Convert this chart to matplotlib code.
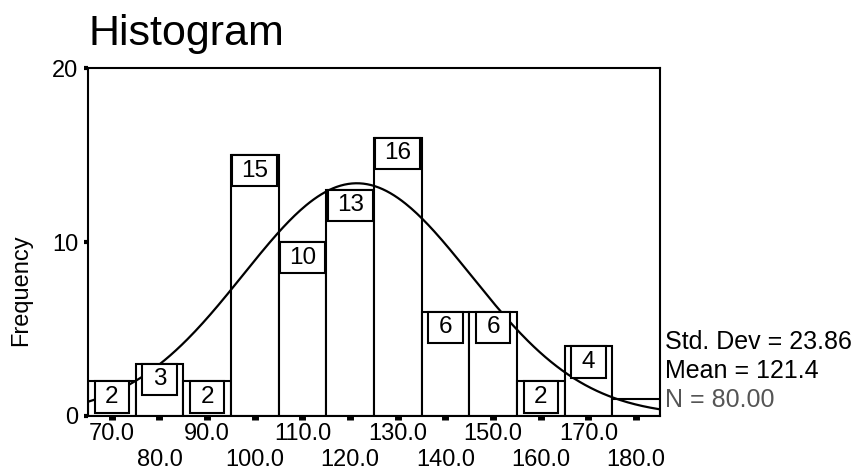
import numpy as np
import matplotlib.pyplot as plt
from matplotlib.patches import Rectangle

plt.rcParams['font.family'] = ['Liberation Sans', 'DejaVu Sans']

# bin centres and counts
bin_centres = [70, 80, 90, 100, 110, 120, 130, 140, 150, 160, 170, 180]
counts = [2, 3, 2, 15, 10, 13, 16, 6, 6, 2, 4, 1]
tick_labels = ['70.0', '80.0', '90.0', '100.0', '110.0', '120.0',
               '130.0', '140.0', '150.0', '160.0', '170.0', '180.0']
std_dev = 23.86
mean = 121.4
n_total = 80
bin_width = 10

fig = plt.figure(figsize=(8.56, 4.74), dpi=100)
ax = fig.add_axes([0.1028, 0.1224, 0.6682, 0.7341])

ax.bar(bin_centres, counts, width=bin_width, color='white',
       edgecolor='black', linewidth=1.5, zorder=2)

# normal curve scaled to counts
xs = np.linspace(65, 185, 300)
ys = n_total * bin_width * np.exp(-0.5 * ((xs - mean) / std_dev) ** 2) / (std_dev * np.sqrt(2 * np.pi))
ax.plot(xs, ys, color='black', linewidth=1.6, zorder=3)

# boxed count labels hanging from the top of each bar
box_h = 1.8
for xc, c in zip(bin_centres, counts):
    if c < 2:
        continue
    w = 9.5 if c >= 10 else 7.2
    ax.add_patch(Rectangle((xc - w / 2, c - box_h), w, box_h, facecolor='white',
                           edgecolor='black', linewidth=1.5, zorder=4))
    ax.text(xc, c - box_h / 2, str(c), ha='center', va='center',
            fontsize=17.5, zorder=5)

ax.set_xlim(65, 185)
ax.set_ylim(0, 20)
ax.set_yticks([0, 10, 20])
ax.set_yticklabels(['0', '10', '20'], fontsize=17)

# staggered x labels: first row on major ticks, second row on minor ticks
ax.set_xticks(bin_centres[0::2])
ax.set_xticklabels(tick_labels[0::2], fontsize=17)
ax.set_xticks(bin_centres[1::2], minor=True)
ax.set_xticklabels(tick_labels[1::2], minor=True, fontsize=17)
ax.tick_params(axis='x', which='major', direction='out', length=3, width=5, pad=2)
ax.tick_params(axis='x', which='minor', direction='out', length=3, width=5, pad=21)
ax.tick_params(axis='y', direction='out', length=3, width=3, pad=4)
for s in ax.spines.values():
    s.set_linewidth(1.5)

ax.set_ylabel('Frequency', fontsize=17)
ax.yaxis.set_label_coords(-0.097, 0.362)

fig.text(88 / 856, 1 - 45 / 474, 'Histogram', fontsize=31, va='baseline', ha='left')

fig.text(665 / 856, 1 - 349 / 474, f'Std. Dev = {std_dev:.2f}', fontsize=18, va='baseline')
fig.text(665 / 856, 1 - 378 / 474, f'Mean = {mean:.1f}', fontsize=18, va='baseline')
fig.text(665 / 856, 1 - 407 / 474, f'N = {n_total:.2f}', fontsize=18, va='baseline', color='#555555')

fig.savefig('out.png', dpi=100)
